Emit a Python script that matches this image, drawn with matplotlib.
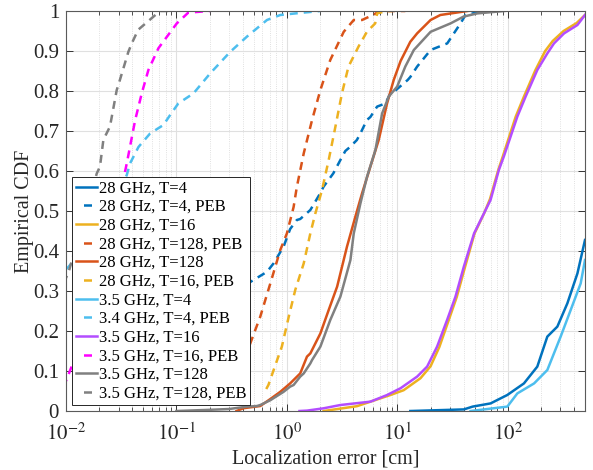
import matplotlib
matplotlib.use("Agg")
import matplotlib.pyplot as plt

plt.rcParams['font.family'] = ['Liberation Serif', 'DejaVu Serif']
plt.rcParams['mathtext.fontset'] = 'stix'

# empirical CDFs of the localization error, x in cm
err_28_t4 = [13.1, 40, 48, 69.8, 98.9, 140, 185, 228, 281, 346, 427, 500]
cdf_28_t4 = [0.0, 0.004, 0.011, 0.019, 0.04, 0.069, 0.111, 0.186, 0.211, 0.269, 0.344, 0.4275]

err_28_t4_peb = [0.1, 0.3, 0.499, 0.66, 0.757, 0.933, 1.07, 1.23, 1.32, 1.63, 2.0, 2.15, 2.63, 3.05, 3.38, 3.76,
                 4.3, 4.63, 5.3, 5.7, 6.56, 7.8, 8.65, 9.3, 12.4, 13.1, 15.1, 20, 28.3, 37.3, 41.4, 50, 75]
cdf_28_t4_peb = [0.1, 0.29, 0.3275, 0.348, 0.369, 0.411, 0.455, 0.4775, 0.48, 0.5025, 0.544, 0.561, 0.594, 0.6275,
                 0.65, 0.661, 0.6775, 0.694, 0.7275, 0.735, 0.761, 0.769, 0.794, 0.798, 0.8275, 0.835, 0.861,
                 0.9025, 0.919, 0.969, 0.99, 0.995, 1.0]

err_28_t16 = [2.15, 4.3, 8.65, 11.4, 16.2, 20, 24, 29, 34.5, 41, 50, 61, 69, 82, 90, 103, 118, 140, 178, 218,
              255, 320, 420, 500]
cdf_28_t16 = [0.0, 0.012, 0.04, 0.052, 0.082, 0.112, 0.16, 0.225, 0.285, 0.36, 0.444, 0.494, 0.53, 0.6025,
              0.636, 0.686, 0.736, 0.786, 0.8525, 0.9, 0.925, 0.95, 0.97, 0.99]

err_28_t128_peb = [0.36, 0.392, 0.466, 0.574, 0.708, 0.871, 1.0, 1.15, 1.23, 1.42, 1.69, 2.01, 2.47, 3.27, 4.03,
                   4.79, 6.0, 7.0, 11.8]
cdf_28_t128_peb = [0.03, 0.086, 0.169, 0.236, 0.319, 0.4025, 0.444, 0.51, 0.56, 0.644, 0.7275, 0.8025, 0.8775,
                   0.948, 0.9775, 0.9775, 0.99, 1.0, 1.0]

err_28_t128 = [0.35, 0.405, 0.574, 0.708, 0.871, 1.07, 1.32, 1.52, 1.63, 2.01, 2.39, 2.85, 3.5, 4.17, 4.79,
               5.7, 6.78, 8.07, 9.27, 10.7, 13.1, 15.1, 20, 24.5, 43]
cdf_28_t128 = [0.0, 0.007, 0.0125, 0.03, 0.048, 0.069, 0.094, 0.136, 0.144, 0.194, 0.2525, 0.311, 0.411, 0.486,
               0.544, 0.611, 0.6775, 0.769, 0.8275, 0.875, 0.923, 0.944, 0.9775, 0.99, 1.0]

err_28_t16_peb = [0.65, 0.68, 0.9, 1.04, 1.19, 1.42, 1.63, 1.81, 2.08, 2.39, 2.75, 3.15, 3.61, 4.45, 5.3, 6.3,
                  6.56, 8.0, 9.0]
cdf_28_t16_peb = [0.055, 0.065, 0.161, 0.236, 0.3025, 0.369, 0.444, 0.494, 0.5525, 0.6275, 0.711, 0.794, 0.861,
                  0.911, 0.948, 0.969, 0.994, 1.0, 1.0]

err_35_t4 = [46, 99, 122, 173, 228, 301, 371, 457, 500]
cdf_35_t4 = [0.0, 0.011, 0.044, 0.069, 0.1025, 0.186, 0.2525, 0.319, 0.3775]

err_34_t4_peb = [0.008, 0.0105, 0.02, 0.0355, 0.038, 0.0453, 0.0578, 0.0762, 0.0877, 0.104, 0.1426, 0.202,
                 0.307, 0.435, 0.66, 0.871, 1.2, 2.0]
cdf_34_t4_peb = [0.33, 0.36, 0.45, 0.59, 0.619, 0.66, 0.694, 0.715, 0.74, 0.769, 0.794, 0.844, 0.898, 0.936,
                 0.9775, 0.99, 0.994, 1.0]

err_35_t16 = [1.3, 1.52, 2.15, 3.05, 5.7, 8.07, 10.7, 15.1, 18.6, 22.9, 28.2, 33.6, 40, 49.5, 60.8, 69.8, 83,
              92, 106, 122, 145, 185, 228, 262, 323, 427, 500]
cdf_35_t16 = [0.0, 0.001, 0.0068, 0.015, 0.0234, 0.04, 0.057, 0.086, 0.111, 0.161, 0.2275, 0.286, 0.361, 0.444,
              0.494, 0.5275, 0.6025, 0.636, 0.686, 0.736, 0.786, 0.8525, 0.894, 0.919, 0.944, 0.965, 0.99]

err_35_t16_peb = [0.0095, 0.0105, 0.0112, 0.017, 0.025, 0.0355, 0.0423, 0.0485, 0.0557, 0.0687, 0.1007, 0.128,
                  0.202]
cdf_35_t16_peb = [0.06, 0.09, 0.11, 0.25, 0.42, 0.619, 0.7275, 0.794, 0.8525, 0.907, 0.969, 0.996, 1.0]

err_35_t128 = [0.1, 0.2, 0.3, 0.435, 0.536, 0.574, 0.708, 0.933, 1.07, 1.15, 1.32, 1.42, 1.63, 1.69, 2.01, 2.47,
               3.05, 3.76, 4.03, 4.63, 5.32, 6.33, 7.28, 8.36, 9.96, 11.8, 14.1, 20, 30.3, 39.8, 52.9, 93]
cdf_35_t128 = [0.0, 0.003, 0.005, 0.011, 0.0125, 0.015, 0.027, 0.048, 0.061, 0.065, 0.086, 0.094, 0.119, 0.1275,
               0.161, 0.2275, 0.286, 0.3775, 0.444, 0.519, 0.586, 0.6525, 0.744, 0.786, 0.811, 0.861, 0.9025,
               0.948, 0.969, 0.986, 0.994, 1.0]

err_35_t128_peb = [0.0095, 0.0105, 0.019, 0.0203, 0.0218, 0.025, 0.0288, 0.0298, 0.0367, 0.0394, 0.045, 0.071,
                   0.085]
cdf_35_t128_peb = [0.32, 0.345, 0.594, 0.611, 0.678, 0.711, 0.8025, 0.815, 0.898, 0.919, 0.953, 1.0, 1.0]

series = [
    (err_28_t4, cdf_28_t4, '#0072BD', '-', '28 GHz, T=4'),
    (err_28_t4_peb, cdf_28_t4_peb, '#0072BD', '--', '28 GHz, T=4, PEB'),
    (err_28_t16, cdf_28_t16, '#EDB120', '-', '28 GHz, T=16'),
    (err_28_t128_peb, cdf_28_t128_peb, '#D95319', '--', '28 GHz, T=128, PEB'),
    (err_28_t128, cdf_28_t128, '#D95319', '-', '28 GHz, T=128'),
    (err_28_t16_peb, cdf_28_t16_peb, '#EDB120', '--', '28 GHz, T=16, PEB'),
    (err_35_t4, cdf_35_t4, '#4DBEEE', '-', '3.5 GHz, T=4'),
    (err_34_t4_peb, cdf_34_t4_peb, '#4DBEEE', '--', '3.4 GHz, T=4, PEB'),
    (err_35_t16, cdf_35_t16, '#B34DFF', '-', '3.5 GHz, T=16'),
    (err_35_t16_peb, cdf_35_t16_peb, '#FF00FF', '--', '3.5 GHz, T=16, PEB'),
    (err_35_t128, cdf_35_t128, '#808080', '-', '3.5 GHz, T=128'),
    (err_35_t128_peb, cdf_35_t128_peb, '#808080', '--', '3.5 GHz, T=128, PEB'),
]

fig = plt.figure(figsize=(5.93, 4.70), dpi=100)
ax = fig.add_axes([0.1113, 0.1255, 0.8752, 0.8511])

lw = 1.8
for x, y, c, ls, name in series:
    if ls == '--':
        ax.plot(x, y, color=c, lw=lw, linestyle=(0, (3.2, 2.4)), label=name)
    else:
        ax.plot(x, y, color=c, lw=lw, label=name)

ax.set_xscale('log')
ax.set_xlim(0.01, 500)
ax.set_ylim(0, 1)
ax.set_yticks([i / 10 for i in range(11)])
ax.set_yticklabels(['0', '0.1', '0.2', '0.3', '0.4', '0.5', '0.6', '0.7', '0.8', '0.9', '1'])
ax.set_xticks([0.01, 0.1, 1, 10, 100])
ax.set_xticklabels([r'$10^{-2}$', r'$10^{-1}$', r'$10^{0}$', r'$10^{1}$', r'$10^{2}$'])

# matlab-like box: grid, ticks inside on all four sides
ax.grid(True, which='major', color='#e0e0e0', lw=0.8)
ax.grid(True, which='minor', axis='x', color='#d6d6d6', lw=0.6, linestyle=':')
ax.set_axisbelow(True)
ax.tick_params(which='both', direction='in', top=True, right=True, colors='#333333', labelcolor='#262626',
               labelsize=15)
ax.tick_params(which='major', length=5, width=0.7)
ax.tick_params(which='minor', length=3, width=0.6)
ax.tick_params(axis='x', pad=9)
ax.tick_params(axis='y', pad=5)
for s in ax.spines.values():
    s.set_color('#5a5a5a')
    s.set_linewidth(0.8)

ax.set_xlabel('Localization error [cm]', fontsize=14.5, color='#262626', labelpad=3)
ax.set_ylabel('Empirical CDF', fontsize=14.5, color='#262626', labelpad=-1)

leg = ax.legend(loc='lower left', bbox_to_anchor=(0.012, 0.015), borderaxespad=0, fontsize=12,
                labelspacing=0.16, handlelength=1.3, handletextpad=0.1, borderpad=0.2,
                fancybox=False, framealpha=1, edgecolor='#262626')
leg.get_frame().set_linewidth(0.7)
# one centred dash per legend handle for the PEB curves
for h, (_, _, _, ls, _) in zip(leg.get_lines(), series):
    if ls == '--':
        h.set_linestyle((5.8, (3.2, 5.6)))

fig.savefig('out.png', dpi=100)
